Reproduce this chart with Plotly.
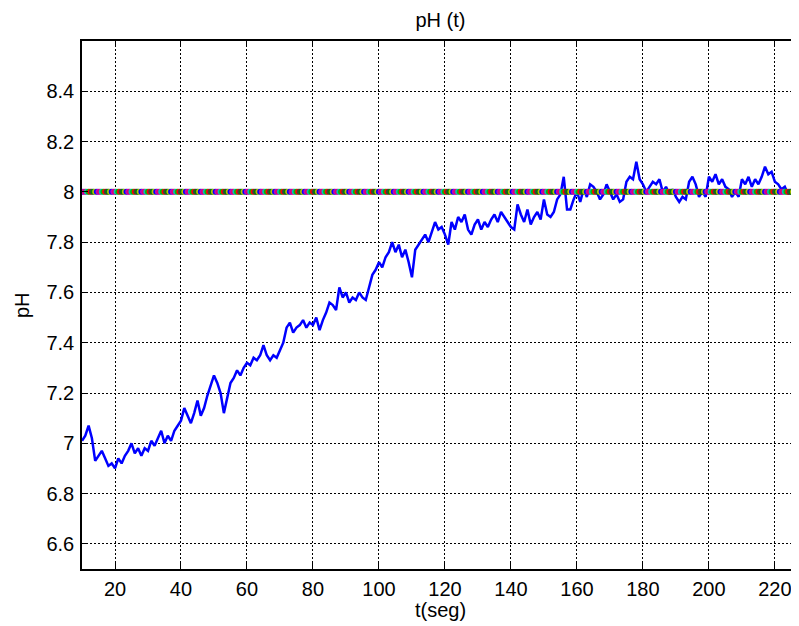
import numpy as np
import plotly.graph_objects as go

t_meas = list(range(10, 228))
ph_meas = [
    7.01, 7.03, 7.07, 7.02, 6.93, 6.95, 6.97, 6.94, 6.91, 6.92,   # 10-19
    6.90, 6.94, 6.92, 6.95, 6.97, 7.00, 6.96, 6.98, 6.95, 6.98,   # 20-29
    6.97, 7.01, 6.99, 7.02, 7.05, 7.00, 7.03, 7.01, 7.05, 7.07,   # 30-39
    7.09, 7.14, 7.11, 7.08, 7.12, 7.17, 7.11, 7.14, 7.19, 7.23,   # 40-49
    7.27, 7.24, 7.20, 7.12, 7.18, 7.24, 7.26, 7.29, 7.27, 7.30,   # 50-59
    7.32, 7.31, 7.34, 7.33, 7.35, 7.39, 7.35, 7.33, 7.35, 7.34,   # 60-69
    7.37, 7.40, 7.46, 7.48, 7.44, 7.46, 7.47, 7.49, 7.46, 7.48,   # 70-79
    7.47, 7.50, 7.45, 7.49, 7.52, 7.56, 7.55, 7.53, 7.62, 7.58,   # 80-89
    7.60, 7.56, 7.58, 7.57, 7.60, 7.58, 7.57, 7.62, 7.67, 7.69,   # 90-99
    7.72, 7.70, 7.74, 7.76, 7.80, 7.76, 7.79, 7.74, 7.77, 7.72,   # 100-109
    7.66, 7.77, 7.79, 7.81, 7.83, 7.80, 7.84, 7.88, 7.85, 7.86,   # 110-119
    7.83, 7.79, 7.88, 7.85, 7.90, 7.88, 7.91, 7.85, 7.83, 7.87,   # 120-129
    7.89, 7.85, 7.88, 7.86, 7.89, 7.91, 7.88, 7.92, 7.90, 7.88,   # 130-139
    7.86, 7.85, 7.95, 7.91, 7.88, 7.93, 7.87, 7.90, 7.92, 7.89,   # 140-149
    7.97, 7.91, 7.90, 7.92, 7.97, 7.99, 8.06, 7.93, 7.93, 7.97,   # 150-159
    8.00, 7.96, 8.01, 7.98, 8.03, 8.02, 8.00, 7.97, 7.99, 8.03,   # 160-169
    8.00, 7.97, 7.99, 7.96, 7.97, 8.04, 8.06, 8.05, 8.12, 8.05,   # 170-179
    8.03, 8.00, 8.02, 8.04, 8.03, 8.05, 8.00, 8.02, 7.99, 8.01,   # 180-189
    7.98, 7.96, 7.98, 7.97, 8.04, 8.06, 8.03, 7.98, 8.00, 7.98,   # 190-199
    8.06, 8.04, 8.07, 8.03, 8.05, 8.02, 8.01, 7.98, 8.00, 7.98,   # 200-209
    8.05, 8.03, 8.06, 8.02, 8.05, 8.03, 8.06, 8.10, 8.07, 8.08,   # 210-219
    8.04, 8.03, 8.01, 8.02, 7.99, 8.01, 7.98, 7.99,               # 220-227
]

# Setpoint (constant pH 8)
t_sp = np.arange(10, 228, 0.5)
ph_sp = np.full(len(t_sp), 8.0)
sp_palette = ["#0000FF", "#008000", "#FF0000", "#00BFBF", "#BF00BF",
              "#BFBF00", "#404040", "#00C000", "#E00070"]
sp_colors = [sp_palette[(i * 4) % len(sp_palette)] for i in range(len(t_sp))]

x_ticks = [20, 40, 60, 80, 100, 120, 140, 160, 180, 200, 220]
y_ticks = [6.6, 6.8, 7.0, 7.2, 7.4, 7.6, 7.8, 8.0, 8.2, 8.4]
y_ticktext = ["6.6", "6.8", "7", "7.2", "7.4", "7.6", "7.8", "8", "8.2", "8.4"]

FONT = "Liberation Sans, Arial, sans-serif"

fig = go.Figure()
fig.add_trace(go.Scatter(x=t_meas, y=ph_meas, mode="lines",
                         line=dict(color="#0000FF", width=2.5),
                         showlegend=False, hoverinfo="skip"))
fig.add_trace(go.Scatter(x=t_sp, y=ph_sp, mode="markers",
                         marker=dict(color=sp_colors, size=6, line=dict(width=0)),
                         showlegend=False, hoverinfo="skip"))

fig.update_layout(
    width=791, height=618,
    margin=dict(l=74, r=0, t=33, b=57),
    paper_bgcolor="white", plot_bgcolor="white",
    font=dict(family=FONT, color="black", size=20),
    title=dict(text="pH (t)", x=0.5, xref="paper", xanchor="center",
               y=1 - 12 / 618, yanchor="middle", font=dict(size=20)),
    xaxis=dict(range=[10, 227.3], tickvals=x_ticks, ticks="inside", ticklen=6,
               tickcolor="black", showline=True, linecolor="black", linewidth=1.5,
               mirror="ticks", showgrid=True, gridcolor="black", griddash="2px,2px",
               gridwidth=1, zeroline=False, tickfont=dict(size=20),
               ticklabelstandoff=1),
    yaxis=dict(range=[6.5, 8.6], tickvals=y_ticks, ticktext=y_ticktext,
               ticks="inside", ticklen=6, tickcolor="black", showline=True,
               linecolor="black", linewidth=1.5, mirror=False, showgrid=True,
               gridcolor="black", griddash="2px,2px", gridwidth=1, zeroline=False,
               tickfont=dict(size=20), ticklabelstandoff=2),
    annotations=[
        dict(text="t(seg)", xref="paper", yref="paper", x=0.5, y=0,
             xanchor="center", yanchor="middle", yshift=-41, showarrow=False,
             font=dict(size=20)),
        dict(text="pH", xref="paper", yref="paper", x=0, y=0.5,
             xanchor="center", yanchor="middle", xshift=-60, textangle=-90,
             showarrow=False, font=dict(size=20)),
    ],
)

fig.write_html("out.html")
